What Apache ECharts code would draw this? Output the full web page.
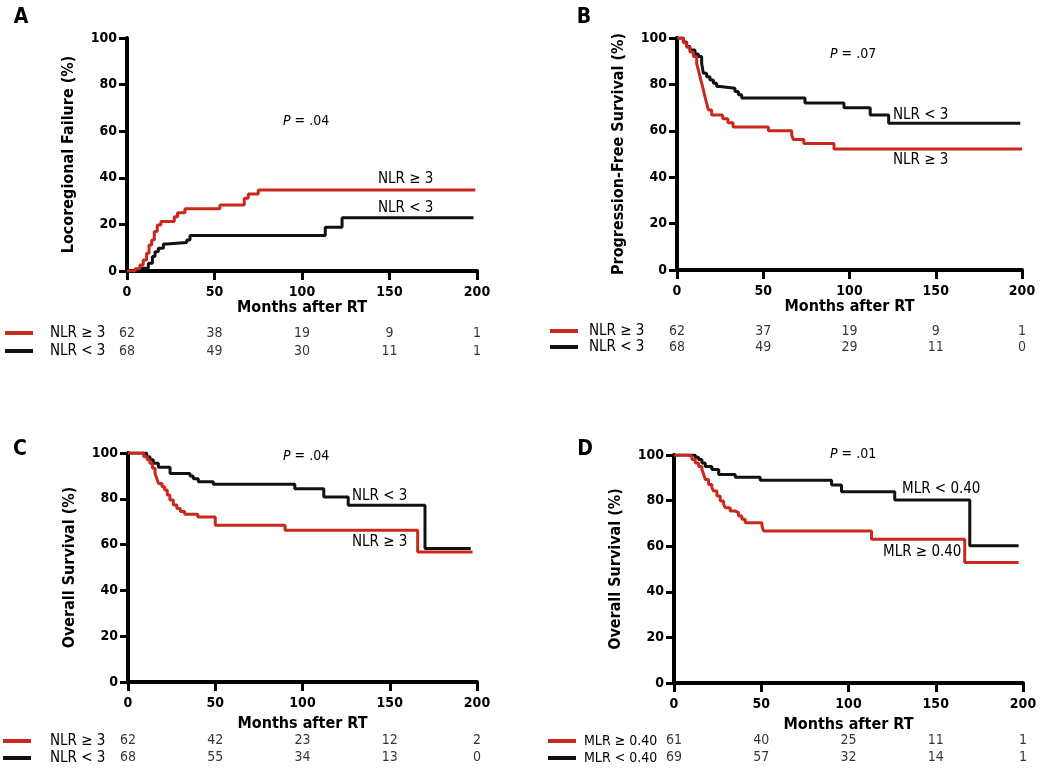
<!DOCTYPE html>
<html><head><meta charset="utf-8">
<script src="https://cdn.jsdelivr.net/npm/echarts@6/dist/echarts.min.js"></script>
<style>html,body{margin:0;padding:0;background:#fff}#c{width:1045px;height:772px}</style>
</head><body><div id="c"></div>
<script>
// ---------- data ----------
const xTicks = [0, 50, 100, 150, 200];
const riskTimes = [0, 50, 100, 150, 200];

// Panel A: Locoregional failure (cumulative %)
const aHighT = [0, 4.6, 7.4, 9.3, 11.2, 12.6, 14.1, 15.6, 17.3, 19.4, 27, 28.9, 33.1, 53.1, 67, 69.3, 75, 199];
const aHighV = [0, 1, 2.6, 4.7, 7.6, 11.2, 13.3, 16.9, 19.7, 21.2, 23.3, 25, 26.7, 28.3, 31.2, 33, 34.8, 34.8];
const aLowT = [0, 7.4, 12.2, 14.5, 16, 17.9, 20.8, 22.7, 34.1, 36, 113.3, 122.9, 198];
const aLowV = [0, 1.2, 3.3, 6.2, 8.3, 9.8, 11.6, 12.2, 13.3, 15.2, 18.8, 22.9, 22.9];

// Panel B: Progression-free survival
const bHighT = [0, 3.7, 5.6, 7.5, 9.5, 11.4, 12.4, 13.3, 14.3, 15.3, 16.2, 17.2, 18.2, 20.1, 26.5, 29.5, 32.5, 53, 66.5, 67.5, 73.5, 91, 200];
const bHighV = [100, 98, 96, 94, 92, 89, 86.2, 83.3, 80.5, 77.6, 74.7, 71.8, 69, 66.8, 65.2, 63.5, 61.6, 60, 58, 56.2, 54.5, 52.2, 52.2];
const bLowT = [0, 3.7, 5.6, 7.5, 10.4, 12.4, 14.3, 15.3, 17.2, 19.1, 21.1, 23, 24.9, 33.6, 35.6, 37.5, 74.2, 96.8, 112, 122.7, 199];
const bLowV = [100, 98.3, 96.3, 94.8, 93.1, 92, 89, 84.8, 83.3, 81.9, 80.5, 79.1, 78.3, 76.9, 75.5, 74.1, 72, 69.9, 66.8, 63.3, 63.3];

// Panel C: Overall survival (NLR)
const cHighT = [0, 9, 11, 12.5, 14, 15.5, 16.5, 17.5, 19.5, 21, 22.5, 24, 26, 28, 30, 32.5, 40, 50, 90, 166, 197.5];
const cHighV = [100, 98.4, 97, 95.5, 93.3, 91.1, 88.9, 86.7, 85.3, 83.8, 81.7, 79.5, 77.3, 75.8, 74.4, 73.3, 72, 68.5, 66.3, 56.8, 56.8];
const cLowT = [0, 10.7, 12.6, 14.5, 17.4, 24.1, 35.5, 37.4, 40.3, 48.9, 95.6, 112.2, 126.2, 170.2, 196.4];
const cLowV = [100, 98.4, 97, 95.5, 93.8, 91, 90, 88.8, 87.5, 86.4, 84.4, 80.8, 77.2, 58.3, 58.3];

// Panel D: Overall survival (MLR)
const dHighT = [0, 8.4, 10.3, 12.2, 14.1, 16, 17, 17.9, 19.8, 21.7, 22.7, 24.6, 26.5, 28.4, 29.4, 32.2, 35.1, 37, 38.9, 40.8, 50.4, 51.3, 113.2, 166.6, 197.5];
const dHighV = [100, 99.4, 98, 96.5, 95, 93.6, 91.5, 89.3, 87.1, 85.7, 84.2, 82, 79.8, 78.4, 76.9, 75.4, 74.7, 73.2, 71.8, 70.3, 68.9, 66.7, 63, 52.8, 52.8];
const dLowT = [0, 12.2, 14.1, 16, 17.9, 21.7, 25.6, 35.1, 49.4, 90.3, 96, 126.5, 169.5, 197.5];
const dLowV = [100, 99, 98, 96.5, 95, 93.6, 91.5, 90.2, 88.9, 86.8, 83.9, 80.3, 60.2, 60.2];

// Numbers at risk
const aRiskHigh = [62, 38, 19, 9, 1];  const aRiskLow = [68, 49, 30, 11, 1];
const bRiskHigh = [62, 37, 19, 9, 1];  const bRiskLow = [68, 49, 29, 11, 0];
const cRiskHigh = [62, 42, 23, 12, 2]; const cRiskLow = [68, 55, 34, 13, 0];
const dRiskHigh = [61, 40, 25, 11, 1]; const dRiskLow = [69, 57, 32, 14, 1];

const nlrNames = ['NLR \u2265 3', 'NLR < 3'];
const mlrNames = ['MLR \u2265 0.40', 'MLR < 0.40'];
const yNames = ['Locoregional Failure (%)', 'Progression-Free Survival (%)', 'Overall Survival (%)', 'Overall Survival (%)'];
const xName = 'Months after RT';
const pValues = ['.04', '.07', '.04', '.01'];
const letters = ['A', 'B', 'C', 'D'];

// ---------- style ----------
const FONT = "'Liberation Sans Narrow','DejaVu Sans Condensed','Roboto Condensed',Roboto,sans-serif";
const RED = '#c9281d', BLACK = '#111111';

const panels = [
  { grid: {left:127, top:38, width:350, height:233}, risk: {left:127, top:324, width:350, height:36},
    high:[aHighT,aHighV], low:[aLowT,aLowV], rh:aRiskHigh, rl:aRiskLow, names:nlrNames,
    xGap:27, legend:{left:5, top:325, gap:2, pad:12, fs:15},
    letter:[21,18], p:[283,121], labHigh:[378,179], labLow:[378,208] },
  { grid: {left:677, top:38, width:345, height:232}, risk: {left:677, top:323, width:345, height:32},
    high:[bHighT,bHighV], low:[bLowT,bLowV], rh:bRiskHigh, rl:bRiskLow, names:nlrNames,
    xGap:27, legend:{left:550, top:323, gap:0, pad:6, fs:15},
    letter:[584,18], p:[830,54], labHigh:[893,160], labLow:[893,115] },
  { grid: {left:128, top:453, width:349, height:229}, risk: {left:128, top:732, width:349, height:34},
    high:[cHighT,cHighV], low:[cLowT,cLowV], rh:cRiskHigh, rl:cRiskLow, names:nlrNames,
    xGap:34, legend:{left:3, top:733, gap:1, pad:14, fs:15},
    letter:[20,450], p:[283,456], labHigh:[352,542], labLow:[352,496] },
  { grid: {left:674, top:455, width:349, height:228}, risk: {left:674, top:732, width:349, height:34},
    high:[dHighT,dHighV], low:[dLowT,dLowV], rh:dRiskHigh, rl:dRiskLow, names:mlrNames,
    xGap:34, legend:{left:548, top:733, gap:1, pad:3, fs:14},
    letter:[585,450], p:[830,454], labHigh:[883,552], labLow:[902,489] }
];

const zip = (t, v) => t.map((x, i) => [x, v[i]]);

const grid = [], xAxis = [], yAxis = [], series = [], legend = [], graphic = [];
panels.forEach((P, i) => {
  const gi = grid.length;
  grid.push(Object.assign({containLabel:false}, P.grid));
  xAxis.push({
    gridIndex: gi, type:'value', min:0, max:200, interval:50,
    axisLine:{show:true, onZero:true, lineStyle:{color:'#000', width:4}},
    axisTick:{show:true, length:9, lineStyle:{color:'#000', width:3}},
    axisLabel:{margin:14, fontFamily:FONT, fontWeight:'bold', fontSize:14, color:'#000',
      formatter: v => xTicks.includes(v) ? String(v) : ''},
    splitLine:{show:false},
    name:xName, nameLocation:'middle', nameGap:P.xGap,
    nameTextStyle:{fontFamily:FONT, fontWeight:'bold', fontSize:16, color:'#000'}
  });
  yAxis.push({
    gridIndex: gi, type:'value', min:0, max:100, interval:20,
    axisLine:{show:true, lineStyle:{color:'#000', width:4}},
    axisTick:{show:true, length:8, lineStyle:{color:'#000', width:3}},
    axisLabel:{margin:10, fontFamily:FONT, fontWeight:'bold', fontSize:14, color:'#000'},
    splitLine:{show:false},
    name:yNames[i], nameLocation:'middle', nameGap:50,
    nameTextStyle:{fontFamily:FONT, fontWeight:'bold', fontSize:16, color:'#000'}
  });
  [[P.low, BLACK, P.names[1]], [P.high, RED, P.names[0]]].forEach(([d, col, nm]) => {
    series.push({
      type:'line', name:nm, xAxisIndex:gi, yAxisIndex:gi, step:'end',
      data: zip(d[0], d[1]), showSymbol:false, symbol:'none', color:col,
      lineStyle:{color:col, width:3}, silent:true, z:5
    });
  });
  // risk table grid
  const ri = grid.length;
  grid.push(Object.assign({containLabel:false}, P.risk));
  xAxis.push({gridIndex:ri, type:'value', min:0, max:200, show:false});
  yAxis.push({gridIndex:ri, type:'category', data:['high','low'], inverse:true, show:false});
  [[P.rh, 'high'], [P.rl, 'low']].forEach(([arr, row]) => {
    series.push({
      type:'scatter', name:'risk-' + letters[i] + '-' + row, xAxisIndex:ri, yAxisIndex:ri,
      symbolSize:0, silent:true,
      data: riskTimes.map((t, k) => [t, row, arr[k]]),
      label:{show:true, position:'inside', formatter: p => String(p.value[2]),
        fontFamily:FONT, fontSize:14, color:'#000'}
    });
  });
  legend.push({
    data:[P.names[0], P.names[1]], orient:'vertical', left:P.legend.left, top:P.legend.top,
    itemGap:P.legend.gap, itemWidth:28, itemHeight:4, icon:'rect', padding:0, selectedMode:false,
    textStyle:{fontFamily:FONT, fontSize:P.legend.fs, color:'#000', lineHeight:16, padding:[0,0,0,P.legend.pad]}
  });
  graphic.push({type:'text', x:P.letter[0], y:P.letter[1],
    style:{text:letters[i], font:"bold 21px " + FONT, fill:'#000', align:'center', verticalAlign:'middle'}});
  graphic.push({type:'text', x:P.p[0], y:P.p[1],
    style:{text:'{i|P} {n|= ' + pValues[i] + '}', fill:'#000', verticalAlign:'middle',
      font:"14px " + FONT,
      rich:{i:{font:"italic 14px " + FONT, fill:'#000'}, n:{font:"14px " + FONT, fill:'#000'}}}});
  graphic.push({type:'text', x:P.labHigh[0], y:P.labHigh[1],
    style:{text:P.names[0], font:"15px " + FONT, fill:'#000', verticalAlign:'middle'}});
  graphic.push({type:'text', x:P.labLow[0], y:P.labLow[1],
    style:{text:P.names[1], font:"15px " + FONT, fill:'#000', verticalAlign:'middle'}});
});

const chart = echarts.init(document.getElementById('c'), null, {renderer:'canvas'});
chart.setOption({
  animation:false, backgroundColor:'#fff',
  grid, xAxis, yAxis, series, legend, graphic
});
</script></body></html>
